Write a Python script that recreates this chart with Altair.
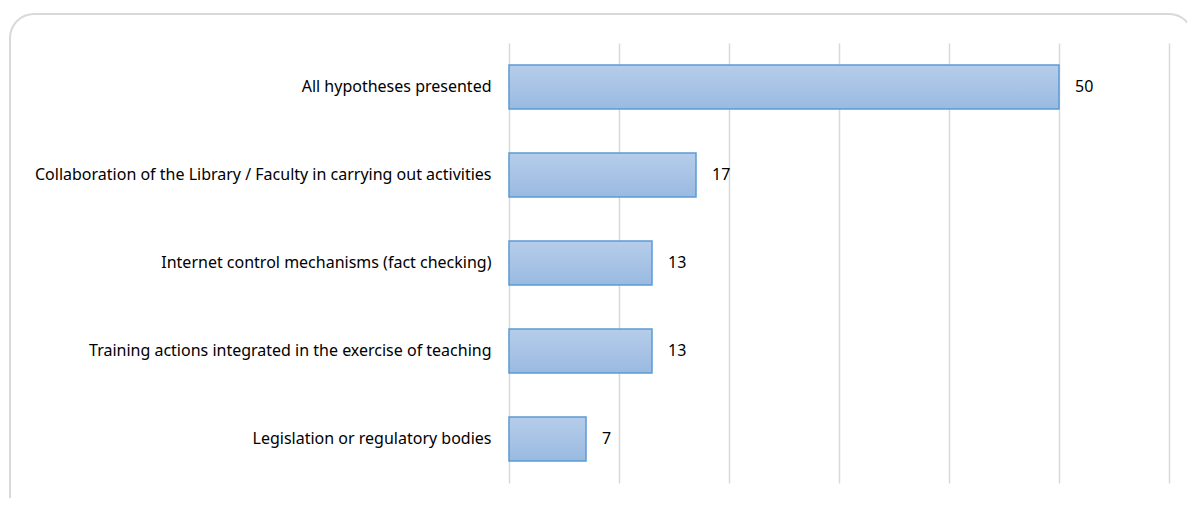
import altair as alt
import pandas as pd

categories = [
    "All hypotheses presented",
    "Collaboration of the Library / Faculty in carrying out activities",
    "Internet control mechanisms (fact checking)",
    "Training actions integrated in the exercise of teaching",
    "Legislation or regulatory bodies",
]
values = [50, 17, 13, 13, 7]

df = pd.DataFrame({"category": categories, "value": values})

FONT = "Noto Sans"

y_enc = alt.Y("category:N", sort=categories, title=None,
              scale=alt.Scale(paddingInner=0.5, paddingOuter=0.25),
              axis=alt.Axis(domain=False, ticks=False, labelPadding=18,
                            labelFontSize=16, labelFont=FONT, labelColor="#000000",
                            labelLimit=600))
x_enc = alt.X("value:Q", title=None,
              scale=alt.Scale(domain=[0, 60], nice=False),
              axis=alt.Axis(values=[0, 10, 20, 30, 40, 50, 60], labels=False,
                            domain=False, ticks=False, grid=True,
                            gridColor="#d9d9d9", gridWidth=1.5))

border = alt.Chart(pd.DataFrame({"k": [0]})).mark_rect(
    fill="transparent", stroke="#d9d9d9", strokeWidth=2, cornerRadius=24
).encode(x=alt.value(-499), x2=alt.value(684), y=alt.value(-29), y2=alt.value(490))

bars = alt.Chart(df).mark_bar(
    fill=alt.Gradient(gradient="linear", x1=0, x2=0, y1=0, y2=1,
                      stops=[alt.GradientStop(color="#b6cdea", offset=0),
                             alt.GradientStop(color="#9abae1", offset=1)]),
    stroke="#5b9bd5", strokeWidth=1.5
).encode(x=x_enc, y=y_enc)

labels = alt.Chart(df).mark_text(
    align="left", baseline="middle", dx=16, fontSize=16, font=FONT, color="#000000"
).encode(x="value:Q", y=alt.Y("category:N", sort=categories), text="value:Q")

chart = alt.layer(border, bars, labels).properties(
    width=660, height=440,
    autosize=alt.AutoSizeParams(type="none"),
    padding={"left": 501, "top": 35, "right": 18, "bottom": 15},
).configure_view(stroke=None)

chart.save("out.html", embed_options={"renderer": "svg", "actions": False})
